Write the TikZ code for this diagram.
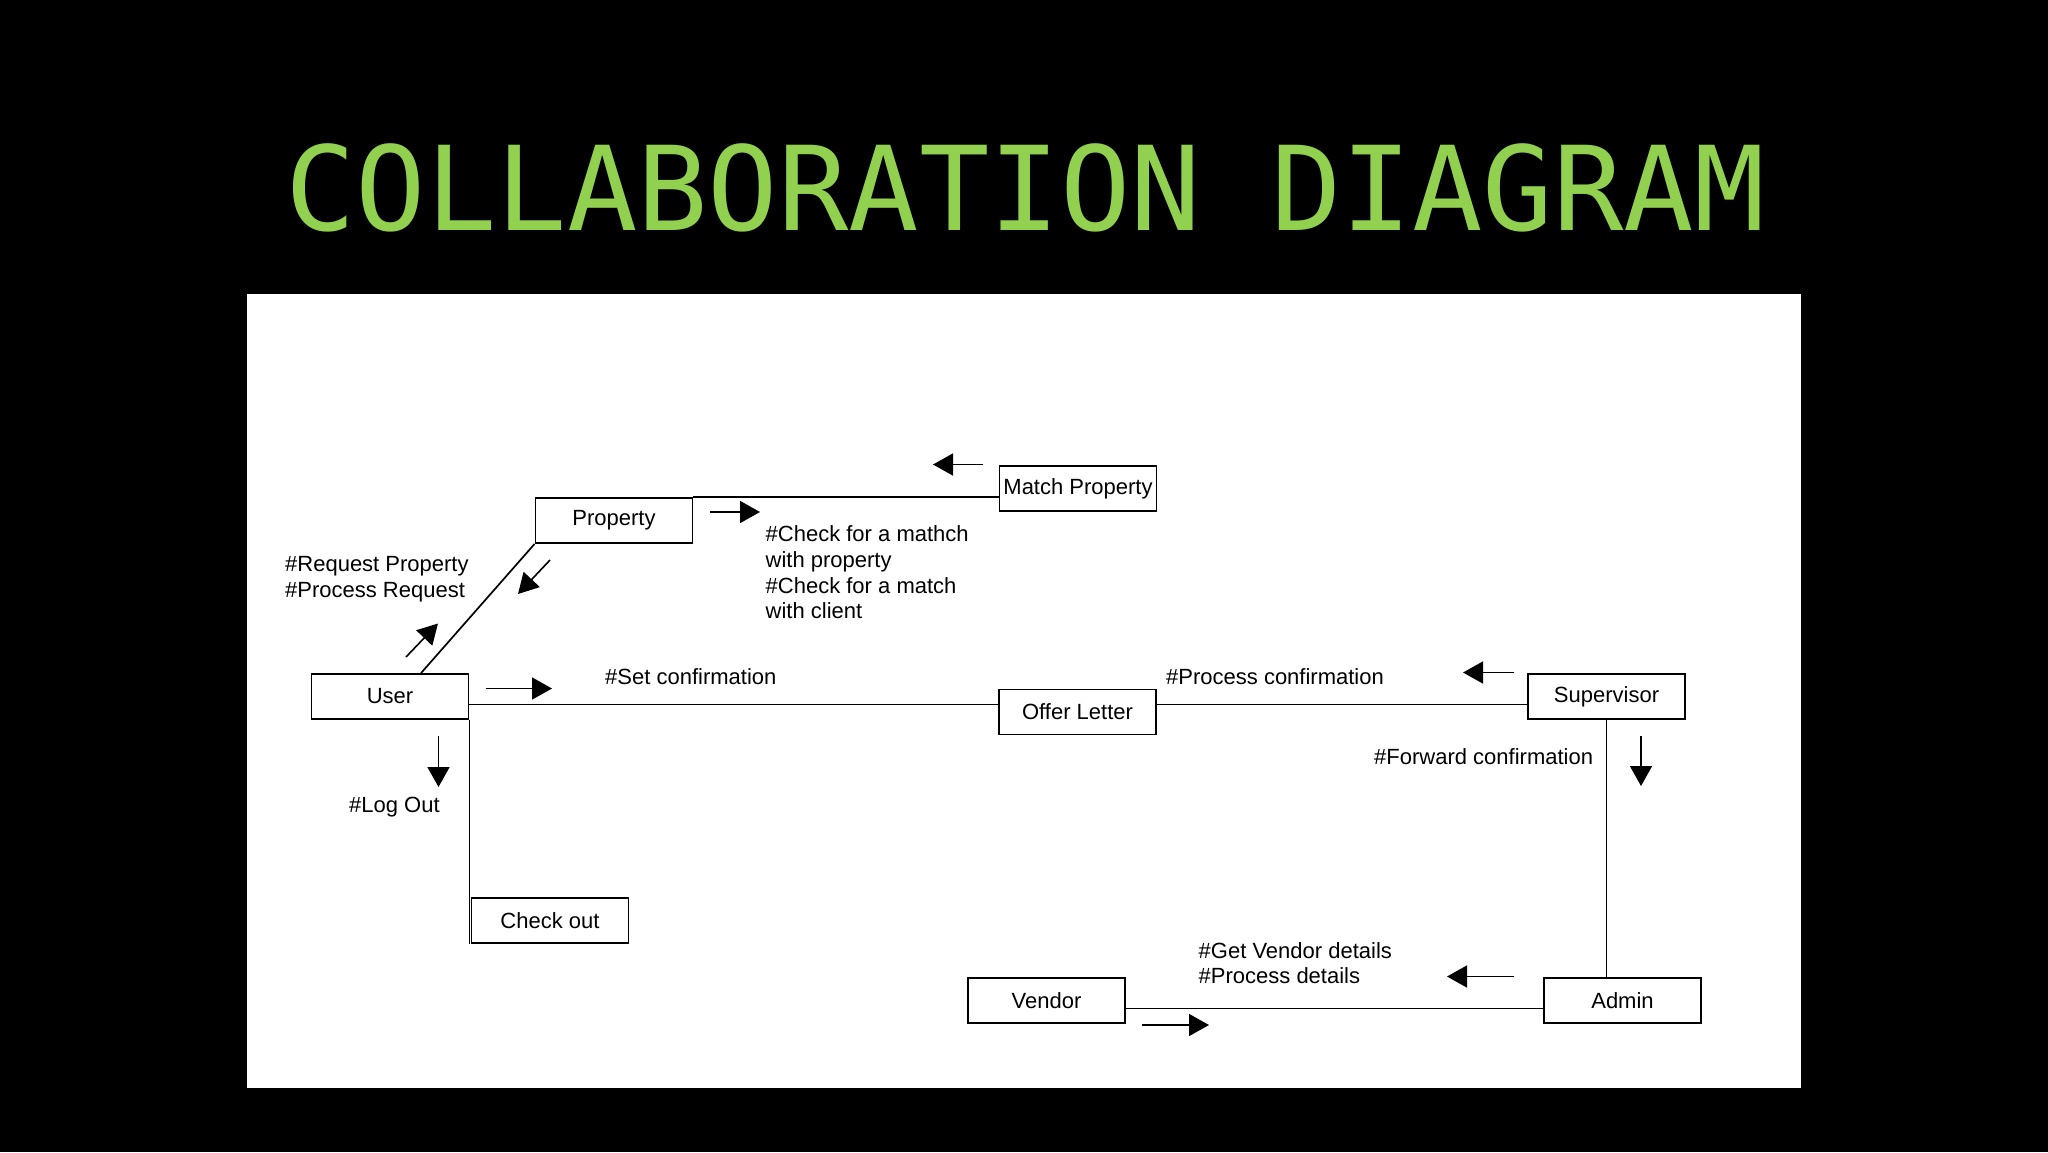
\documentclass[tikz,border=0pt]{standalone}
\usepackage{fontspec}
\setmainfont{Liberation Sans}
\newfontfamily\titlefont{DejaVu Sans Mono}
\usetikzlibrary{arrows.meta}
\definecolor{titlegreen}{RGB}{146,208,80}

\begin{document}
\begin{tikzpicture}[x=1pt, y=-1pt,
    obj/.style={draw, line width=1.8pt, minimum width=157pt, minimum height=45pt, inner sep=0pt, font=\fontsize{22}{26}\selectfont},
    link/.style={line width=1.7pt},
    msg/.style={line width=1.6pt, -{Triangle[length=20pt, width=22pt]}},
    note/.style={anchor=west, align=left, inner sep=0pt, font=\fontsize{22}{25.7}\selectfont}]

    % slide and panel
    \fill[black] (0,0) rectangle (2048,1152);
    \useasboundingbox (0,0) rectangle (2048,1152);
    \fill[white] (247,294) rectangle (1801,1088);
    \node[font=\titlefont\fontsize{117}{117}\selectfont, text=titlegreen, inner sep=0pt] (title) at (1025,188) {COLLABORATION DIAGRAM};

    % objects
    \node[obj] (match) at (1078,488.5) {Match Property};
    \node[obj] (prop) at (614,520.5) {Property};
    \node[obj] (user) at (390,696.5) {User};
    \node[obj] (offer) at (1077.5,712) {Offer Letter};
    \node[obj] (sup) at (1606.5,696.5) {Supervisor};
    \node[obj] (check) at (550,920.5) {Check out};
    \node[obj] (vendor) at (1046.5,1000.5) {Vendor};
    \node[obj] (admin) at (1622.5,1000.5) {Admin};

    % links
    \draw[link] (prop.north east) -- (prop.north east -| match.west);
    \draw[link] (user.north) ++(31,0) -- (prop.south west);
    \draw[link] ([yshift=-8pt]user.east) -- ([yshift=-8pt]user.east -| offer.west);
    \draw[link] ([yshift=7.5pt]offer.east) -- ([yshift=7.5pt]offer.east -| sup.west);
    \draw[link] (user.south east) -- (user.south east |- check.south west);
    \draw[link] (sup.south) -- (sup.south |- admin.north);
    \draw[link] ([yshift=-8pt]vendor.east) -- ([yshift=-8pt]vendor.east -| admin.west);

    % messages
    \draw[msg] (983,464.5) -- (933,464.5);
    \draw[msg] (710,512) -- (760,512);
    \draw[msg] (550,560) -- (518,594);
    \draw[msg] (406,657) -- (438,623.5);
    \draw[msg] (485.5,688.5) -- (552,688.5);
    \draw[msg] (438.5,736) -- (438.5,787);
    \draw[msg] (1514,672.5) -- (1463,672.5);
    \draw[msg] (1641,736) -- (1641,786);
    \draw[msg] (1514,976.5) -- (1447,976.5);
    \draw[msg] (1142,1025) -- (1209,1025);

    % message labels
    \node[note] (reqlbl) at (285,579.5) {\#Request Property\\\#Process Request};
    \node[note] (checklbl) at (765.5,572.5) {\#Check for a mathch\\with property\\\#Check for a match\\with client};
    \node[note] (setlbl) at (605,677) {\#Set confirmation};
    \node[note] (proclbl) at (1166,677) {\#Process confirmation};
    \node[note] (fwdlbl) at (1374,757) {\#Forward confirmation};
    \node[note] (outlbl) at (349,807.5) {\#Log Out};
    \node[note] (vendlbl) at (1198.5,963) {\#Get Vendor details\\\#Process details};

\end{tikzpicture}
\end{document}
